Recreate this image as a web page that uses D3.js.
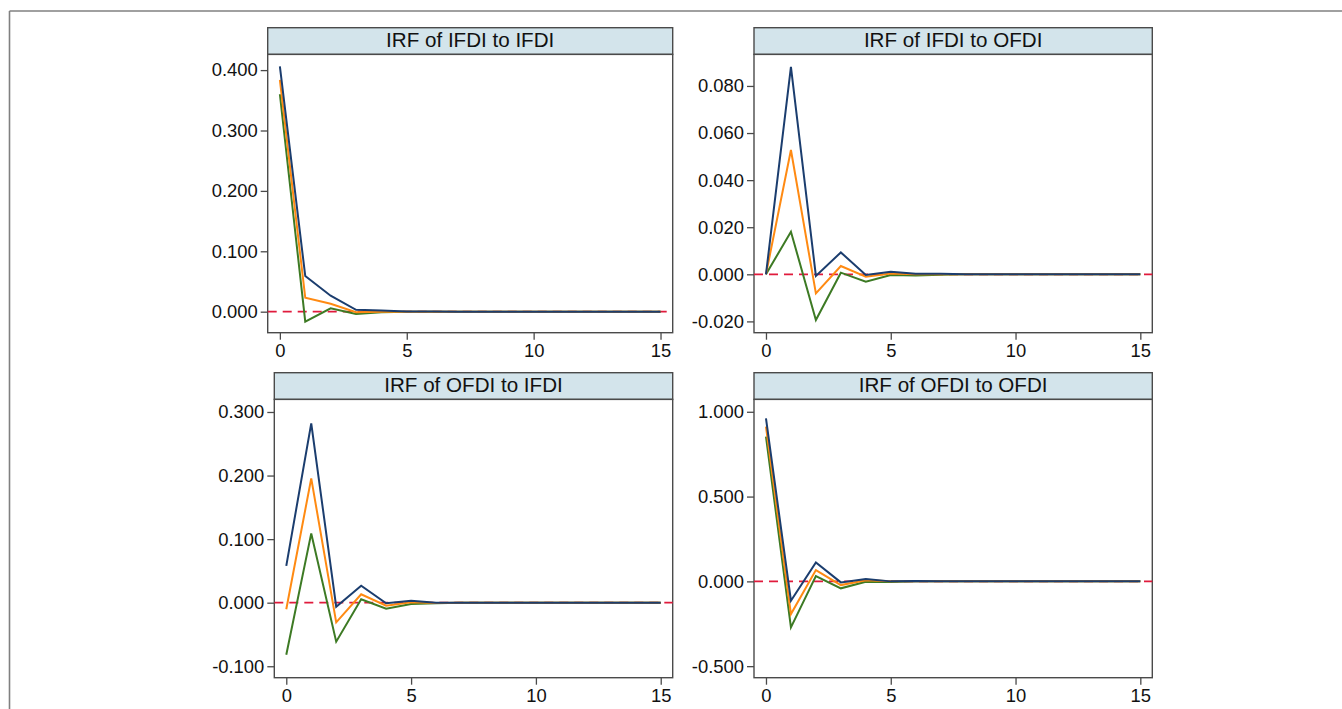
<!DOCTYPE html>
<html>
<head>
<meta charset="utf-8">
<script src="https://cdn.jsdelivr.net/npm/d3@7"></script>
<style>
  body { margin: 0; background: #fff; }
  svg { display: block; font-family: "Liberation Sans", Arial, sans-serif; }
</style>
</head>
<body>
<div id="chart"></div>
<script>
// horizon steps
const steps = [0, 1, 2, 3, 4, 5, 6, 7, 8, 9, 10, 11, 12, 13, 14, 15];
const xTicks = [0, 5, 10, 15];

const titles = ['IRF of IFDI to IFDI', 'IRF of IFDI to OFDI', 'IRF of OFDI to IFDI', 'IRF of OFDI to OFDI'];

// upper bound / irf / lower bound for each panel
const ifdiIfdiUpper = [0.406, 0.059, 0.0265, 0.003, 0.002, 0.0005, 0.0002, 0, 0, 0, 0, 0, 0, 0, 0, 0];
const ifdiIfdiIrf = [0.384, 0.023, 0.013, -0.001, 0, 0, 0, 0, 0, 0, 0, 0, 0, 0, 0, 0];
const ifdiIfdiLower = [0.360, -0.0166, 0.0056, -0.004, -0.001, 0, 0, 0, 0, 0, 0, 0, 0, 0, 0, 0];

const ifdiOfdiUpper = [0, 0.0881, -0.0007, 0.0093, -0.0003, 0.0011, 0.0002, 0.0002, 0, 0, 0, 0, 0, 0, 0, 0];
const ifdiOfdiIrf = [0, 0.0528, -0.0081, 0.0035, -0.001, 0.0003, 0, 0, 0, 0, 0, 0, 0, 0, 0, 0];
const ifdiOfdiLower = [0, 0.0181, -0.0194, 0.0007, -0.0031, -0.0003, -0.0005, -0.0002, 0, 0, 0, 0, 0, 0, 0, 0];

const ofdiIfdiUpper = [0.058, 0.282, -0.0063, 0.0267, -0.001, 0.003, 0, 0, 0, 0, 0, 0, 0, 0, 0, 0];
const ofdiIfdiIrf = [-0.0104, 0.1955, -0.031, 0.0132, -0.0047, 0.0005, -0.0003, 0, 0, 0, 0, 0, 0, 0, 0, 0];
const ofdiIfdiLower = [-0.082, 0.109, -0.0613, 0.0053, -0.0094, -0.002, -0.001, 0, 0, 0, 0, 0, 0, 0, 0, 0];

const ofdiOfdiUpper = [0.961, -0.114, 0.112, -0.006, 0.0136, 0, 0.002, 0, 0, 0, 0, 0, 0, 0, 0, 0];
const ofdiOfdiIrf = [0.912, -0.193, 0.0666, -0.022, 0.006, 0, 0, 0, 0, 0, 0, 0, 0, 0, 0, 0];
const ofdiOfdiLower = [0.853, -0.271, 0.031, -0.041, -0.002, -0.004, 0, 0, 0, 0, 0, 0, 0, 0, 0, 0];

const yTicks = [
  [0, 0.1, 0.2, 0.3, 0.4],
  [-0.02, 0, 0.02, 0.04, 0.06, 0.08],
  [-0.1, 0, 0.1, 0.2, 0.3],
  [-0.5, 0, 0.5, 1.0]
];
const yDomains = [
  [-0.0348, 0.426],
  [-0.0248, 0.0934],
  [-0.118, 0.3198],
  [-0.568, 1.073]
];
const seriesByPanel = [
  [ifdiIfdiUpper, ifdiIfdiIrf, ifdiIfdiLower],
  [ifdiOfdiUpper, ifdiOfdiIrf, ifdiOfdiLower],
  [ofdiIfdiUpper, ofdiIfdiIrf, ofdiIfdiLower],
  [ofdiOfdiUpper, ofdiOfdiIrf, ofdiOfdiLower]
];

// layout
const W = 1342, H = 709;
const boxes = [
  { left: 267.7, right: 672.7, top: 27.7, head: 26.7, bottom: 332.7 },
  { left: 754, right: 1152.3, top: 27.7, head: 26.7, bottom: 332.7 },
  { left: 274.3, right: 672.7, top: 372.7, head: 26.7, bottom: 677.7 },
  { left: 754, right: 1152.3, top: 372.7, head: 26.7, bottom: 677.7 }
];
const lineColors = ['#1b3d6e', '#ff8a12', '#3d7a24'];
const frameColor = '#4a4a4a';

// stata style: plain hyphen for negatives
const fmt3 = d3.format('.3f');
const tickFmt = d => fmt3(d).replace('\u2212', '-');

const svg = d3.select('#chart').append('svg')
  .attr('width', W)
  .attr('height', H);

// outer figure frame (top + left edges)
svg.append('line')
  .attr('x1', 9.5).attr('x2', W).attr('y1', 11).attr('y2', 11)
  .attr('stroke', '#808080').attr('stroke-width', 1.6);
svg.append('line')
  .attr('x1', 9.5).attr('x2', 9.5).attr('y1', 11).attr('y2', H)
  .attr('stroke', '#808080').attr('stroke-width', 1.6);

boxes.forEach((b, i) => {
  const g = svg.append('g');
  const plotTop = b.top + b.head;

  const x = d3.scaleLinear().domain([-0.48, 15.48]).range([b.left, b.right]);
  const y = d3.scaleLinear().domain(yDomains[i]).range([b.bottom, plotTop]);

  // header strip
  g.append('rect')
    .attr('x', b.left).attr('y', b.top)
    .attr('width', b.right - b.left).attr('height', b.head)
    .attr('fill', '#d3e4eb')
    .attr('stroke', frameColor).attr('stroke-width', 1.4);
  g.append('text')
    .attr('x', (b.left + b.right) / 2)
    .attr('y', b.top + 19)
    .attr('text-anchor', 'middle')
    .attr('font-size', 20.6)
    .attr('fill', '#111')
    .text(titles[i]);

  // plot region
  g.append('rect')
    .attr('x', b.left).attr('y', plotTop)
    .attr('width', b.right - b.left).attr('height', b.bottom - plotTop)
    .attr('fill', '#fff')
    .attr('stroke', frameColor).attr('stroke-width', 1.4);

  // zero reference line
  g.append('line')
    .attr('x1', b.left).attr('x2', b.right)
    .attr('y1', y(0)).attr('y2', y(0))
    .attr('stroke', '#e01b3c')
    .attr('stroke-width', 1.8)
    .attr('stroke-dasharray', '9,6');

  const line = d3.line()
    .x((d, k) => x(steps[k]))
    .y(d => y(d));

  // draw lower first so upper (navy) ends on top
  [2, 1, 0].forEach(s => {
    g.append('path')
      .datum(seriesByPanel[i][s])
      .attr('d', line)
      .attr('fill', 'none')
      .attr('stroke', lineColors[s])
      .attr('stroke-width', 2)
      .attr('stroke-linejoin', 'miter');
  });

  // axes
  const yAxis = d3.axisLeft(y)
    .tickValues(yTicks[i])
    .tickSize(7)
    .tickPadding(3)
    .tickFormat(tickFmt);
  const ya = g.append('g')
    .attr('transform', `translate(${b.left},0)`)
    .call(yAxis);
  ya.select('.domain').remove();

  const xAxis = d3.axisBottom(x)
    .tickValues(xTicks)
    .tickSize(7)
    .tickPadding(4)
    .tickFormat(d3.format('d'));
  const xa = g.append('g')
    .attr('transform', `translate(0,${b.bottom})`)
    .call(xAxis);
  xa.select('.domain').remove();

  [ya, xa].forEach(a => {
    a.selectAll('.tick line').attr('stroke', frameColor).attr('stroke-width', 1.3);
    a.selectAll('.tick text')
      .attr('font-size', 18.4)
      .attr('fill', '#111')
      .attr('font-family', '"Liberation Sans", Arial, sans-serif');
  });
});
</script>
</body>
</html>
